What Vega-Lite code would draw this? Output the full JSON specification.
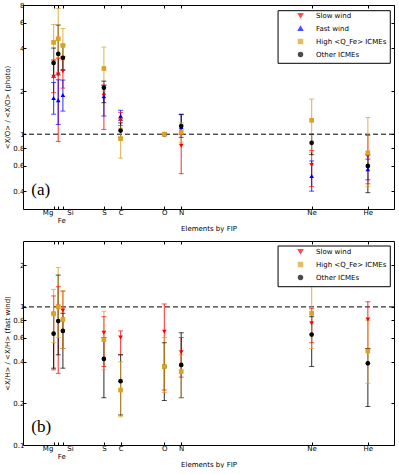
{
  "$schema": "https://vega.github.io/schema/vega-lite/v6.json",
  "padding": {"left": 3, "top": 0, "right": 3, "bottom": 0},
  "spacing": 8,
  "config": {
    "font": "DejaVu Sans",
    "view": {"stroke": "black", "strokeWidth": 1},
    "axis": {"labelFont": "DejaVu Sans", "labelFontSize": 7, "titleFont": "DejaVu Sans", "titleFontSize": 7, "titleFontWeight": "normal", "grid": false, "domain": false, "tickColor": "black", "tickSize": -3, "labelPadding": 2, "labelColor": "black", "titleColor": "black"},
    "legend": {"labelFont": "DejaVu Sans", "labelFontSize": 7, "labelColor": "black", "padding": 3, "symbolOffset": 7, "labelOffset": 12, "rowPadding": 2, "symbolSize": 16, "cornerRadius": 0, "offset": 4}
  },
  "datasets": {
    "A": [
      {"el": "Mg", "fip": 7.65, "series": "Slow wind", "v": 2.52, "lo": 1.95, "hi": 3.3},
      {"el": "Fe", "fip": 7.9, "series": "Slow wind", "v": 2.61, "lo": 0.89, "hi": 3.4},
      {"el": "Si", "fip": 8.15, "series": "Slow wind", "v": 2.76, "lo": 2.1, "hi": 3.5},
      {"el": "S", "fip": 10.36, "series": "Slow wind", "v": 1.86, "lo": 1.08, "hi": 2.2},
      {"el": "C", "fip": 11.26, "series": "Slow wind", "v": 1.25, "lo": 1.15, "hi": 1.42},
      {"el": "O", "fip": 13.62, "series": "Slow wind", "v": 1.0, "lo": null, "hi": null},
      {"el": "N", "fip": 14.53, "series": "Slow wind", "v": 0.83, "lo": 0.53, "hi": 1.0},
      {"el": "Ne", "fip": 21.56, "series": "Slow wind", "v": 0.61, "lo": 0.43, "hi": 0.77},
      {"el": "He", "fip": 24.59, "series": "Slow wind", "v": 0.7, "lo": 0.45, "hi": 0.98},
      {"el": "Mg", "fip": 7.65, "series": "Fast wind", "v": 1.79, "lo": 1.38, "hi": 2.3},
      {"el": "Fe", "fip": 7.9, "series": "Fast wind", "v": 1.73, "lo": 1.17, "hi": 2.4},
      {"el": "Si", "fip": 8.15, "series": "Fast wind", "v": 1.88, "lo": 1.45, "hi": 2.39},
      {"el": "S", "fip": 10.36, "series": "Fast wind", "v": 1.84, "lo": 1.34, "hi": 2.2},
      {"el": "C", "fip": 11.26, "series": "Fast wind", "v": 1.34, "lo": 1.25, "hi": 1.47},
      {"el": "O", "fip": 13.62, "series": "Fast wind", "v": 1.0, "lo": null, "hi": null},
      {"el": "N", "fip": 14.53, "series": "Fast wind", "v": 1.12, "lo": 0.95, "hi": 1.37},
      {"el": "Ne", "fip": 21.56, "series": "Fast wind", "v": 0.51, "lo": 0.4, "hi": 0.65},
      {"el": "He", "fip": 24.59, "series": "Fast wind", "v": 0.57, "lo": 0.48, "hi": 0.67},
      {"el": "Mg", "fip": 7.65, "series": "Other ICMEs", "v": 3.15, "lo": 2.5, "hi": 4.0},
      {"el": "Fe", "fip": 7.9, "series": "Other ICMEs", "v": 3.64, "lo": 2.6, "hi": 5.79},
      {"el": "Si", "fip": 8.15, "series": "Other ICMEs", "v": 3.42, "lo": 2.8, "hi": 4.2},
      {"el": "S", "fip": 10.36, "series": "Other ICMEs", "v": 2.11, "lo": 1.66, "hi": 2.35},
      {"el": "C", "fip": 11.26, "series": "Other ICMEs", "v": 1.06, "lo": 0.95, "hi": 1.2},
      {"el": "O", "fip": 13.62, "series": "Other ICMEs", "v": 1.0, "lo": null, "hi": null},
      {"el": "N", "fip": 14.53, "series": "Other ICMEs", "v": 1.14, "lo": 1.0, "hi": 1.38},
      {"el": "Ne", "fip": 21.56, "series": "Other ICMEs", "v": 0.87, "lo": 0.72, "hi": 1.0},
      {"el": "He", "fip": 24.59, "series": "Other ICMEs", "v": 0.6, "lo": 0.39, "hi": 0.72},
      {"el": "Mg", "fip": 7.65, "series": "High <Q_Fe> ICMEs", "v": 4.38, "lo": 3.3, "hi": 5.85},
      {"el": "Fe", "fip": 7.9, "series": "High <Q_Fe> ICMEs", "v": 4.64, "lo": 3.4, "hi": 7.57},
      {"el": "Si", "fip": 8.15, "series": "High <Q_Fe> ICMEs", "v": 4.17, "lo": 3.3, "hi": 5.48},
      {"el": "S", "fip": 10.36, "series": "High <Q_Fe> ICMEs", "v": 2.88, "lo": 2.0, "hi": 4.06},
      {"el": "C", "fip": 11.26, "series": "High <Q_Fe> ICMEs", "v": 0.93, "lo": 0.68, "hi": 1.1},
      {"el": "O", "fip": 13.62, "series": "High <Q_Fe> ICMEs", "v": 1.0, "lo": null, "hi": null},
      {"el": "N", "fip": 14.53, "series": "High <Q_Fe> ICMEs", "v": 1.03, "lo": 0.88, "hi": 1.2},
      {"el": "Ne", "fip": 21.56, "series": "High <Q_Fe> ICMEs", "v": 1.25, "lo": 0.75, "hi": 1.76},
      {"el": "He", "fip": 24.59, "series": "High <Q_Fe> ICMEs", "v": 0.74, "lo": 0.43, "hi": 1.31}
    ],
    "B": [
      {"el": "Mg", "fip": 7.65, "series": "Slow wind", "v": 0.89, "lo": 0.35, "hi": 1.2},
      {"el": "Fe", "fip": 7.9, "series": "Slow wind", "v": 1.0, "lo": 0.33, "hi": 1.4},
      {"el": "Si", "fip": 8.15, "series": "Slow wind", "v": 0.94, "lo": 0.5, "hi": 1.3},
      {"el": "S", "fip": 10.36, "series": "Slow wind", "v": 0.65, "lo": 0.37, "hi": 0.85},
      {"el": "C", "fip": 11.26, "series": "Slow wind", "v": 0.6, "lo": 0.45, "hi": 0.67},
      {"el": "O", "fip": 13.62, "series": "Slow wind", "v": 0.66, "lo": 0.25, "hi": 1.05},
      {"el": "N", "fip": 14.53, "series": "Slow wind", "v": 0.47, "lo": 0.31, "hi": 0.6},
      {"el": "Ne", "fip": 21.56, "series": "Slow wind", "v": 0.76, "lo": 0.55, "hi": 0.97},
      {"el": "He", "fip": 24.59, "series": "Slow wind", "v": 0.81, "lo": 0.5, "hi": 1.09},
      {"el": "Mg", "fip": 7.65, "series": "Other ICMEs", "v": 0.64, "lo": 0.36, "hi": 0.9},
      {"el": "Fe", "fip": 7.9, "series": "Other ICMEs", "v": 0.79, "lo": 0.45, "hi": 1.7},
      {"el": "Si", "fip": 8.15, "series": "Other ICMEs", "v": 0.67, "lo": 0.36, "hi": 0.9},
      {"el": "S", "fip": 10.36, "series": "Other ICMEs", "v": 0.42, "lo": 0.22, "hi": 0.6},
      {"el": "C", "fip": 11.26, "series": "Other ICMEs", "v": 0.29, "lo": 0.165, "hi": 0.45},
      {"el": "O", "fip": 13.62, "series": "Other ICMEs", "v": 0.37, "lo": 0.21, "hi": 0.55},
      {"el": "N", "fip": 14.53, "series": "Other ICMEs", "v": 0.38, "lo": 0.22, "hi": 0.65},
      {"el": "Ne", "fip": 21.56, "series": "Other ICMEs", "v": 0.63, "lo": 0.37, "hi": 0.85},
      {"el": "He", "fip": 24.59, "series": "Other ICMEs", "v": 0.39, "lo": 0.19, "hi": 0.5},
      {"el": "Mg", "fip": 7.65, "series": "High <Q_Fe> ICMEs", "v": 0.89, "lo": 0.55, "hi": 1.34},
      {"el": "Fe", "fip": 7.9, "series": "High <Q_Fe> ICMEs", "v": 1.0, "lo": 0.6, "hi": 1.93},
      {"el": "Si", "fip": 8.15, "series": "High <Q_Fe> ICMEs", "v": 0.81, "lo": 0.5, "hi": 1.31},
      {"el": "S", "fip": 10.36, "series": "High <Q_Fe> ICMEs", "v": 0.58, "lo": 0.35, "hi": 0.93},
      {"el": "C", "fip": 11.26, "series": "High <Q_Fe> ICMEs", "v": 0.25, "lo": 0.16, "hi": 0.4},
      {"el": "O", "fip": 13.62, "series": "High <Q_Fe> ICMEs", "v": 0.37, "lo": 0.24, "hi": 0.6},
      {"el": "N", "fip": 14.53, "series": "High <Q_Fe> ICMEs", "v": 0.34, "lo": 0.22, "hi": 0.45},
      {"el": "Ne", "fip": 21.56, "series": "High <Q_Fe> ICMEs", "v": 0.9, "lo": 0.5, "hi": 1.5},
      {"el": "He", "fip": 24.59, "series": "High <Q_Fe> ICMEs", "v": 0.48, "lo": 0.28, "hi": 0.8}
    ]
  },
  "vconcat": [
    {
      "width": 371,
      "height": 204,
      "layer": [
        {
          "data": {"values": [{"ref": 1}]},
          "mark": {"type": "rule", "color": "black", "strokeDash": [5, 3], "strokeWidth": 1},
          "encoding": {"y": {"field": "ref", "type": "quantitative", "scale": {"type": "log", "domain": [0.3, 8], "nice": false}, "axis": null}}
        },
        {
          "data": {"name": "A"},
          "transform": [{"filter": "datum.lo != null"}],
          "mark": {"type": "rule", "strokeWidth": 1.2, "opacity": 0.7},
          "encoding": {
            "x": {"field": "fip", "type": "quantitative", "scale": {"domain": [6, 26], "nice": false, "zero": false}, "title": "Elements by FIP",
              "axis": {"values": [7.65, 7.9, 8.15, 10.36, 11.26, 13.62, 14.53, 21.56, 24.59], "titlePadding": 1,
                "labelExpr": "datum.value==7.65?'Mg':datum.value==7.9?'Fe':datum.value==8.15?'Si':datum.value==10.36?'S':datum.value==11.26?'C':datum.value==13.62?'O':datum.value==14.53?'N':datum.value==21.56?'Ne':'He'",
                "labelPadding": {"condition": {"test": "datum.value == 7.9", "value": 10}, "value": 2},
                "labelOffset": {"condition": [{"test": "datum.value == 7.65", "value": -6}, {"test": "datum.value == 8.15", "value": 7}, {"test": "datum.value == 7.9", "value": 3}], "value": 0}}},
            "y": {"field": "lo", "type": "quantitative", "scale": {"type": "log", "domain": [0.3, 8], "nice": false}, "title": "<X/O> / <X/O> (photo)",
              "axis": {"values": [0.4, 0.6, 0.8, 1, 2, 4, 6, 8], "format": "~g", "titlePadding": 2}},
            "y2": {"field": "hi"},
            "color": {"field": "series", "type": "nominal", "scale": {"domain": ["Slow wind", "Fast wind", "High <Q_Fe> ICMEs", "Other ICMEs"], "range": ["#ff0000", "#0000ff", "#d9a323", "#000000"]}, "legend": {"title": null, "orient": "top-right"}}
          }
        },
        {
          "data": {"name": "A"},
          "transform": [{"filter": "datum.lo != null"}],
          "mark": {"type": "tick", "orient": "horizontal", "size": 5, "thickness": 1, "opacity": 0.7},
          "encoding": {
            "x": {"field": "fip", "type": "quantitative", "scale": {"domain": [6, 26], "nice": false, "zero": false}, "axis": null},
            "y": {"field": "lo", "type": "quantitative", "scale": {"type": "log", "domain": [0.3, 8], "nice": false}, "axis": null},
            "color": {"field": "series", "type": "nominal"}
          }
        },
        {
          "data": {"name": "A"},
          "transform": [{"filter": "datum.hi != null"}],
          "mark": {"type": "tick", "orient": "horizontal", "size": 5, "thickness": 1, "opacity": 0.7},
          "encoding": {
            "x": {"field": "fip", "type": "quantitative", "scale": {"domain": [6, 26], "nice": false, "zero": false}, "axis": null},
            "y": {"field": "hi", "type": "quantitative", "scale": {"type": "log", "domain": [0.3, 8], "nice": false}, "axis": null},
            "color": {"field": "series", "type": "nominal"}
          }
        },
        {
          "data": {"name": "A"},
          "mark": {"type": "point", "filled": true, "opacity": 1, "size": 22},
          "encoding": {
            "x": {"field": "fip", "type": "quantitative", "scale": {"domain": [6, 26], "nice": false, "zero": false},
              "axis": {"orient": "top", "values": [7.65, 7.9, 8.15, 10.36, 11.26, 13.62, 14.53, 21.56, 24.59], "labels": false, "title": null}},
            "y": {"field": "v", "type": "quantitative", "scale": {"type": "log", "domain": [0.3, 8], "nice": false},
              "axis": {"orient": "right", "values": [0.4, 0.6, 0.8, 1, 2, 4, 6, 8], "labels": false, "title": null}},
            "color": {"field": "series", "type": "nominal"},
            "shape": {"field": "series", "type": "nominal", "scale": {"domain": ["Slow wind", "Fast wind", "High <Q_Fe> ICMEs", "Other ICMEs"], "range": ["triangle-down", "triangle-up", "square", "circle"]}, "legend": {"title": null, "orient": "top-right"}}
          }
        },
        {
          "data": {"values": [{"box": "legend"}]},
          "mark": {"type": "rect", "fill": "white", "stroke": "black", "strokeWidth": 1},
          "encoding": {
            "x": {"datum": 19.75, "type": "quantitative", "scale": {"domain": [6, 26], "nice": false, "zero": false}, "axis": null},
            "x2": {"datum": 25.8},
            "y": {"datum": 7.3, "type": "quantitative", "scale": {"type": "log", "domain": [0.3, 8], "nice": false}, "axis": null},
            "y2": {"datum": 3.13}
          }
        },
        {
          "data": {"values": [{"lab": "(a)"}]},
          "mark": {"type": "text", "font": "Liberation Serif", "fontSize": 17, "align": "left", "baseline": "middle", "color": "black"},
          "encoding": {
            "x": {"datum": 6.45, "type": "quantitative", "scale": {"domain": [6, 26], "nice": false, "zero": false}, "axis": null},
            "y": {"datum": 0.41, "type": "quantitative", "scale": {"type": "log", "domain": [0.3, 8], "nice": false}, "axis": null},
            "text": {"field": "lab"}
          }
        }
      ],
      "resolve": {"axis": {"x": "independent", "y": "independent"}}
    },
    {
      "width": 371,
      "height": 204,
      "layer": [
        {
          "data": {"values": [{"ref": 1}]},
          "mark": {"type": "rule", "color": "black", "strokeDash": [5, 3], "strokeWidth": 1},
          "encoding": {"y": {"field": "ref", "type": "quantitative", "scale": {"type": "log", "domain": [0.1, 3], "nice": false}, "axis": null}}
        },
        {
          "data": {"name": "B"},
          "mark": {"type": "rule", "strokeWidth": 1.2, "opacity": 0.7},
          "encoding": {
            "x": {"field": "fip", "type": "quantitative", "scale": {"domain": [6, 26], "nice": false, "zero": false}, "title": "Elements by FIP",
              "axis": {"values": [7.65, 7.9, 8.15, 10.36, 11.26, 13.62, 14.53, 21.56, 24.59], "titlePadding": 1,
                "labelExpr": "datum.value==7.65?'Mg':datum.value==7.9?'Fe':datum.value==8.15?'Si':datum.value==10.36?'S':datum.value==11.26?'C':datum.value==13.62?'O':datum.value==14.53?'N':datum.value==21.56?'Ne':'He'",
                "labelPadding": {"condition": {"test": "datum.value == 7.9", "value": 10}, "value": 2},
                "labelOffset": {"condition": [{"test": "datum.value == 7.65", "value": -6}, {"test": "datum.value == 8.15", "value": 7}, {"test": "datum.value == 7.9", "value": 3}], "value": 0}}},
            "y": {"field": "lo", "type": "quantitative", "scale": {"type": "log", "domain": [0.1, 3], "nice": false}, "title": "<X/H> / <X/H> (fast wind)",
              "axis": {"values": [0.1, 0.2, 0.4, 0.6, 0.8, 1, 2], "format": "~g", "titlePadding": 2}},
            "y2": {"field": "hi"},
            "color": {"field": "series", "type": "nominal", "scale": {"domain": ["Slow wind", "High <Q_Fe> ICMEs", "Other ICMEs"], "range": ["#ff0000", "#d9a323", "#000000"]}, "legend": {"title": null, "orient": "top-right"}}
          }
        },
        {
          "data": {"name": "B"},
          "mark": {"type": "tick", "orient": "horizontal", "size": 5, "thickness": 1, "opacity": 0.7},
          "encoding": {
            "x": {"field": "fip", "type": "quantitative", "scale": {"domain": [6, 26], "nice": false, "zero": false}, "axis": null},
            "y": {"field": "lo", "type": "quantitative", "scale": {"type": "log", "domain": [0.1, 3], "nice": false}, "axis": null},
            "color": {"field": "series", "type": "nominal"}
          }
        },
        {
          "data": {"name": "B"},
          "mark": {"type": "tick", "orient": "horizontal", "size": 5, "thickness": 1, "opacity": 0.7},
          "encoding": {
            "x": {"field": "fip", "type": "quantitative", "scale": {"domain": [6, 26], "nice": false, "zero": false}, "axis": null},
            "y": {"field": "hi", "type": "quantitative", "scale": {"type": "log", "domain": [0.1, 3], "nice": false}, "axis": null},
            "color": {"field": "series", "type": "nominal"}
          }
        },
        {
          "data": {"name": "B"},
          "mark": {"type": "point", "filled": true, "opacity": 1, "size": 22},
          "encoding": {
            "x": {"field": "fip", "type": "quantitative", "scale": {"domain": [6, 26], "nice": false, "zero": false},
              "axis": {"orient": "top", "values": [7.65, 7.9, 8.15, 10.36, 11.26, 13.62, 14.53, 21.56, 24.59], "labels": false, "title": null}},
            "y": {"field": "v", "type": "quantitative", "scale": {"type": "log", "domain": [0.1, 3], "nice": false},
              "axis": {"orient": "right", "values": [0.1, 0.2, 0.4, 0.6, 0.8, 1, 2], "labels": false, "title": null}},
            "color": {"field": "series", "type": "nominal"},
            "shape": {"field": "series", "type": "nominal", "scale": {"domain": ["Slow wind", "High <Q_Fe> ICMEs", "Other ICMEs"], "range": ["triangle-down", "square", "circle"]}, "legend": {"title": null, "orient": "top-right"}}
          }
        },
        {
          "data": {"values": [{"box": "legend"}]},
          "mark": {"type": "rect", "fill": "white", "stroke": "black", "strokeWidth": 1},
          "encoding": {
            "x": {"datum": 19.75, "type": "quantitative", "scale": {"domain": [6, 26], "nice": false, "zero": false}, "axis": null},
            "x2": {"datum": 25.8},
            "y": {"datum": 2.76, "type": "quantitative", "scale": {"type": "log", "domain": [0.1, 3], "nice": false}, "axis": null},
            "y2": {"datum": 1.4}
          }
        },
        {
          "data": {"values": [{"lab": "(b)"}]},
          "mark": {"type": "text", "font": "Liberation Serif", "fontSize": 17, "align": "left", "baseline": "middle", "color": "black"},
          "encoding": {
            "x": {"datum": 6.45, "type": "quantitative", "scale": {"domain": [6, 26], "nice": false, "zero": false}, "axis": null},
            "y": {"datum": 0.135, "type": "quantitative", "scale": {"type": "log", "domain": [0.1, 3], "nice": false}, "axis": null},
            "text": {"field": "lab"}
          }
        }
      ],
      "resolve": {"axis": {"x": "independent", "y": "independent"}}
    }
  ],
  "resolve": {"scale": {"color": "independent", "shape": "independent"}}
}
